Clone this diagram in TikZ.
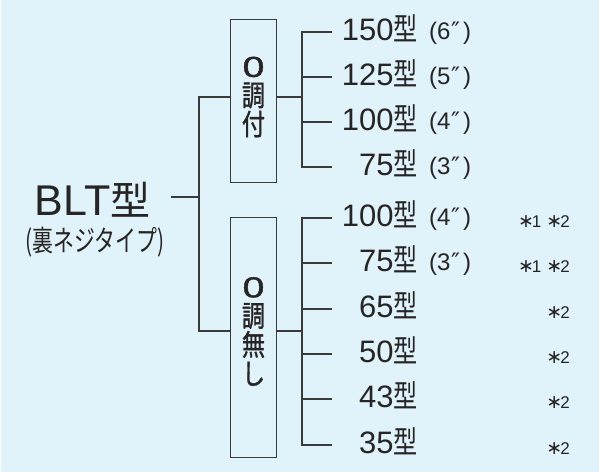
\documentclass[tikz,border=0pt]{standalone}
\usepackage{fontspec}
\setmainfont{Liberation Sans}
\newfontfamily\cjk{Noto Sans CJK JP}
\newfontfamily\cjkb[FakeBold=1.2]{Noto Sans CJK JP}
\newfontfamily\djv{DejaVu Sans}
\newfontfamily\lsb[FakeBold=1.2]{Liberation Sans}
\usepackage{graphicx}
\definecolor{bg}{RGB}{224,242,250}
\definecolor{ln}{RGB}{58,58,58}
\definecolor{tx}{RGB}{38,36,36}
\newcommand{\kt}[1]{\scalebox{0.78}[1]{\cjk #1}}
\newcommand{\kb}[1]{\scalebox{0.8}[1]{#1}}
\newcommand{\zr}{\scalebox{1.35}[1]{\lsb\fontsize{29}{29}\selectfont 0}}
\newcommand{\dq}{{\djv\kern0.5pt″}}
\newcommand{\astk}{{\djv\fontsize{19}{19}\selectfont ∗}}
\begin{document}
\begin{tikzpicture}[x=1pt,y=-1pt,
  conn/.style={draw=ln, line width=1.3pt},
  boxst/.style={draw=ln, line width=1.3pt, fill=bg, minimum width=46pt, inner sep=0pt},
  boxtxt/.style={inner sep=0pt, text=tx, align=center, font=\cjkb\fontsize{29}{29}\selectfont},
  lab/.style={inner sep=0pt, text=tx, font=\fontsize{31}{31}\selectfont, anchor=base east},
  inch/.style={inner sep=0pt, text=tx, font=\fontsize{24}{24}\selectfont, anchor=base west},
  note/.style={inner sep=0pt, text=tx, font=\fontsize{17}{17}\selectfont, anchor=base east},
]
\useasboundingbox (0,0) rectangle (599,473);
\fill[bg] (1,0) rectangle (599,472);

% main label
\node[inner sep=0pt, anchor=base west, text=tx] (blt) at (34.5,215)
  {\fontsize{43}{43}\selectfont BLT{\cjk\fontsize{40}{40}\selectfont 型}};
\node[inner sep=0pt, text=tx] (sub) at (95,242)
  {\cjk\fontsize{29}{29}\selectfont\scalebox{0.72}[1]{(裏ネジタイプ)}};

% boxes
\node[boxst, minimum height=163pt] (box1) at (253.5,101) {};
\node[boxst, minimum height=240pt] (box2) at (253.5,337.5) {};
\node[boxtxt] (t1) at (253.5,97) {\zr\\\kb{調}\\\kb{付}};
\node[boxtxt] (t2) at (253.5,331.5) {\zr\\\kb{調}\\\kb{無}\\\kb{し}};

% left connectors
\coordinate (bltr) at (171,197);
\coordinate (ja) at (199,97);
\coordinate (jb) at (199,331);
\draw[conn] (bltr) -- (bltr -| ja);
\draw[conn] (box1.west |- ja) -- (ja) -- (jb) -- (box2.west |- jb);

% right connectors
\coordinate (ra) at (302,97);
\coordinate (rb) at (302,331);
\draw[conn] (box1.east |- ra) -- (ra);
\draw[conn] (box2.east |- rb) -- (rb);

\foreach \n/\y in {a1/32,a2/77,a3/122,a4/167,b1/218,b2/263,b3/309,b4/354,b5/399,b6/445}{
  \coordinate (s\n) at (302,\y);
  \coordinate (e\n) at (332,\y);
}
\draw[conn] (ea1) -- (sa1) -- (sa4) -- (ea4);
\draw[conn] (sa2) -- (ea2);
\draw[conn] (sa3) -- (ea3);
\draw[conn] (eb1) -- (sb1) -- (sb6) -- (eb6);
\foreach \n in {b2,b3,b4,b5}{\draw[conn] (s\n) -- (e\n);}

% labels
\node[lab] (la1) at (418,40.5) {150\kt{型}};
\node[lab] (la2) at (418,85.5) {125\kt{型}};
\node[lab] (la3) at (418,130.5) {100\kt{型}};
\node[lab] (la4) at (418,175.5) {75\kt{型}};
\node[lab] (lb1) at (418,226.5) {100\kt{型}};
\node[lab] (lb2) at (418,271.5) {75\kt{型}};
\node[lab] (lb3) at (418,317.5) {65\kt{型}};
\node[lab] (lb4) at (418,362.5) {50\kt{型}};
\node[lab] (lb5) at (418,407.5) {43\kt{型}};
\node[lab] (lb6) at (418,453.5) {35\kt{型}};

\node[inch] (ia1) at (429,39.5) {(6\dq\kern3pt)};
\node[inch] (ia2) at (429,84.5) {(5\dq\kern3pt)};
\node[inch] (ia3) at (429,129.5) {(4\dq\kern3pt)};
\node[inch] (ia4) at (429,174.5) {(3\dq\kern3pt)};
\node[inch] (ib1) at (429,225.5) {(4\dq\kern3pt)};
\node[inch] (ib2) at (429,270.5) {(3\dq\kern3pt)};

\node[note] (nb1) at (570,227.5) {\astk\kern-2pt1\hspace{5pt}\astk\kern-2pt2};
\node[note] (nb2) at (570,272.5) {\astk\kern-2pt1\hspace{5pt}\astk\kern-2pt2};
\node[note] (nb3) at (570,318) {\astk\kern-2pt2};
\node[note] (nb4) at (570,363) {\astk\kern-2pt2};
\node[note] (nb5) at (570,408) {\astk\kern-2pt2};
\node[note] (nb6) at (570,454) {\astk\kern-2pt2};
\end{tikzpicture}
\end{document}
